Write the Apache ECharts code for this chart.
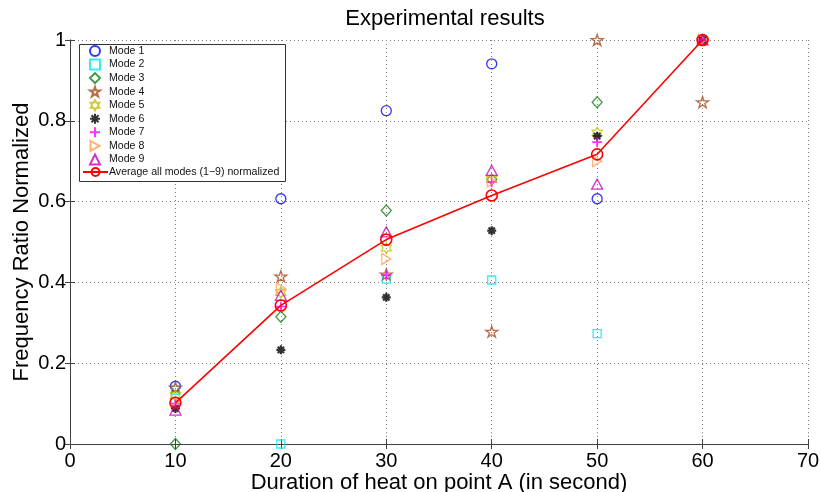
<!DOCTYPE html>
<html>
<head>
<meta charset="utf-8">
<script src="https://cdn.jsdelivr.net/npm/echarts@6/dist/echarts.min.js"></script>
<style>
html,body{margin:0;padding:0;background:#fff;}
#chart{width:821px;height:492px;}
</style>
</head>
<body>
<div id="chart"></div>
<script>
// ---- data ----
var durations = [10, 20, 30, 40, 50, 60];
var mode1 = [0.143, 0.607, 0.825, 0.941, 0.607, 1.000];
var mode2 = [0.133, 0.000, 0.408, 0.406, 0.273, 1.000];
var mode3 = [0.000, 0.315, 0.578, 0.655, 0.846, 1.000];
var mode4 = [0.140, 0.415, 0.420, 0.278, 1.000, 0.846];
var mode5 = [0.120, 0.375, 0.485, 0.655, 0.770, 1.000];
var mode6 = [0.088, 0.233, 0.363, 0.528, 0.762, 1.000];
var mode7 = [0.100, 0.340, 0.418, 0.648, 0.747, 1.000];
var mode8 = [0.105, 0.385, 0.458, 0.650, 0.700, 1.000];
var mode9 = [0.084, 0.368, 0.525, 0.677, 0.643, 1.000];
var average = [0.102, 0.343, 0.506, 0.615, 0.717, 1.000];
var modeNames = ['Mode 1','Mode 2','Mode 3','Mode 4','Mode 5','Mode 6','Mode 7','Mode 8','Mode 9'];
var avgName = 'Average all modes (1\u22129) normalized';
var titleText = 'Experimental results';
var xName = 'Duration of heat on point A (in second)';
var yName = 'Frequency Ratio Normalized';

function pairs(vals){ return durations.map(function(x,i){ return [x, vals[i]]; }); }

var FONT = 'Liberation Sans, Arial, Helvetica, sans-serif';
var pentagram = 'path://M5,0 L6.123,3.455 L9.755,3.455 L6.816,5.59 L7.939,9.045 L5,6.91 L2.061,9.045 L3.184,5.59 L0.245,3.455 L3.877,3.455 Z';
var hexagram = 'path://M5,0 L6.443,2.5 L9.33,2.5 L7.887,5 L9.33,7.5 L6.443,7.5 L5,10 L3.557,7.5 L0.67,7.5 L2.113,5 L0.67,2.5 L3.557,2.5 Z';
var asterisk = 'path://M0,5 L10,5 M5,0 L5,10 M1.5,1.5 L8.5,8.5 M8.5,1.5 L1.5,8.5';
var plus = 'path://M5,0 L5,10 M0,5 L10,5';
var rightTri = 'path://M0,0 L9,5 L0,10 Z';

var styles = [
  {sym:'circle', size:10, color:'#0000ff'},
  {sym:'rect', size:8, color:'#00e8f0'},
  {sym:'diamond', size:[10,11], color:'#108010'},
  {sym:pentagram, size:[12,11], color:'#a8481c'},
  {sym:hexagram, size:[10,11], color:'#c0c000'},
  {sym:asterisk, size:9, color:'#000000', bw:2.2},
  {sym:plus, size:10, color:'#ff00ff', bw:1.8},
  {sym:rightTri, size:[9,11], color:'#ffa050'},
  {sym:'triangle', size:[11,10], color:'#c000c0'}
];
var modeData = [mode1, mode2, mode3, mode4, mode5, mode6, mode7, mode8, mode9];

var series = modeData.map(function(vals, i){
  var s = styles[i];
  return {
    name: modeNames[i],
    type: 'scatter',
    data: pairs(vals),
    symbol: s.sym,
    symbolSize: s.size,
    itemStyle: {color: 'rgba(0,0,0,0)', borderColor: s.color, borderWidth: s.bw || 1.3},
    emphasis: {disabled: true},
    z: 3 + i
  };
});
series.push({
  name: avgName,
  type: 'line',
  data: pairs(average),
  symbol: 'circle',
  symbolSize: 11,
  showAllSymbol: true,
  lineStyle: {color: '#ff0000', width: 1.6},
  itemStyle: {color: 'rgba(0,0,0,0)', borderColor: '#ff0000', borderWidth: 1.6},
  emphasis: {disabled: true},
  z: 20
});

var gridLine = {show: true, lineStyle: {color: '#808080', type: [1, 3], width: 1}};
var axisLineStyle = {show: true, lineStyle: {color: '#404040', width: 1}};
var tickStyle = {show: true, inside: true, length: 5, lineStyle: {color: '#404040'}};
var legendText = {fontFamily: FONT, fontSize: 10.6, color: '#111', lineHeight: 12};

var chart = echarts.init(document.getElementById('chart'), null, {renderer: 'canvas'});
chart.setOption({
  animation: false,
  backgroundColor: '#ffffff',
  title: {
    text: titleText,
    left: 440, top: 3, textAlign: 'center',
    textStyle: {fontFamily: FONT, fontSize: 22, fontWeight: 'normal', color: '#000'}
  },
  grid: {left: 70, right: 13, top: 40, bottom: 48, containLabel: false, outerBoundsMode: 'none'},
  graphic: [{
    type: 'rect', z: 50, zlevel: 0,
    shape: {x: 79.5, y: 44.5, width: 206, height: 137},
    style: {fill: '#ffffff', stroke: '#333333', lineWidth: 1}
  }],
  legend: [{
    orient: 'vertical',
    left: 89, top: 45, padding: 0,
    data: modeNames,
    itemWidth: 10, itemHeight: 10, itemGap: 1.56,
    textStyle: Object.assign({padding: [0,0,0,4]}, legendText),
    selectedMode: false, z: 60
  }, {
    orient: 'vertical',
    left: 82, top: 166, padding: 0,
    data: [avgName],
    itemWidth: 25, itemHeight: 10,
    textStyle: Object.assign({padding: [0,0,0,-4]}, legendText),
    selectedMode: false, z: 60
  }],
  xAxis: [{
    type: 'value', min: 0, max: 70, interval: 10,
    name: xName,
    nameLocation: 'middle', nameGap: 28, nameMoveOverlap: false,
    nameTextStyle: {fontFamily: FONT, fontSize: 22, color: '#000'},
    axisLine: axisLineStyle,
    axisTick: tickStyle,
    axisLabel: {fontFamily: FONT, fontSize: 20, color: '#000', margin: 7},
    splitLine: gridLine
  }, {
    type: 'value', min: 0, max: 70, interval: 10, position: 'top',
    axisLine: axisLineStyle, axisTick: tickStyle,
    axisLabel: {show: false}, splitLine: {show: false}
  }],
  yAxis: [{
    type: 'value', min: 0, max: 1, interval: 0.2,
    name: yName,
    nameLocation: 'middle', nameGap: 37, nameRotate: 90, nameMoveOverlap: false,
    nameTextStyle: {fontFamily: FONT, fontSize: 22, color: '#000'},
    axisLine: axisLineStyle,
    axisTick: tickStyle,
    axisLabel: {fontFamily: FONT, fontSize: 20, color: '#000', margin: 4},
    splitLine: gridLine
  }, {
    type: 'value', min: 0, max: 1, interval: 0.2, position: 'right',
    axisLine: axisLineStyle, axisTick: tickStyle,
    axisLabel: {show: false}, splitLine: {show: false}
  }],
  series: series
});
</script>
</body>
</html>
